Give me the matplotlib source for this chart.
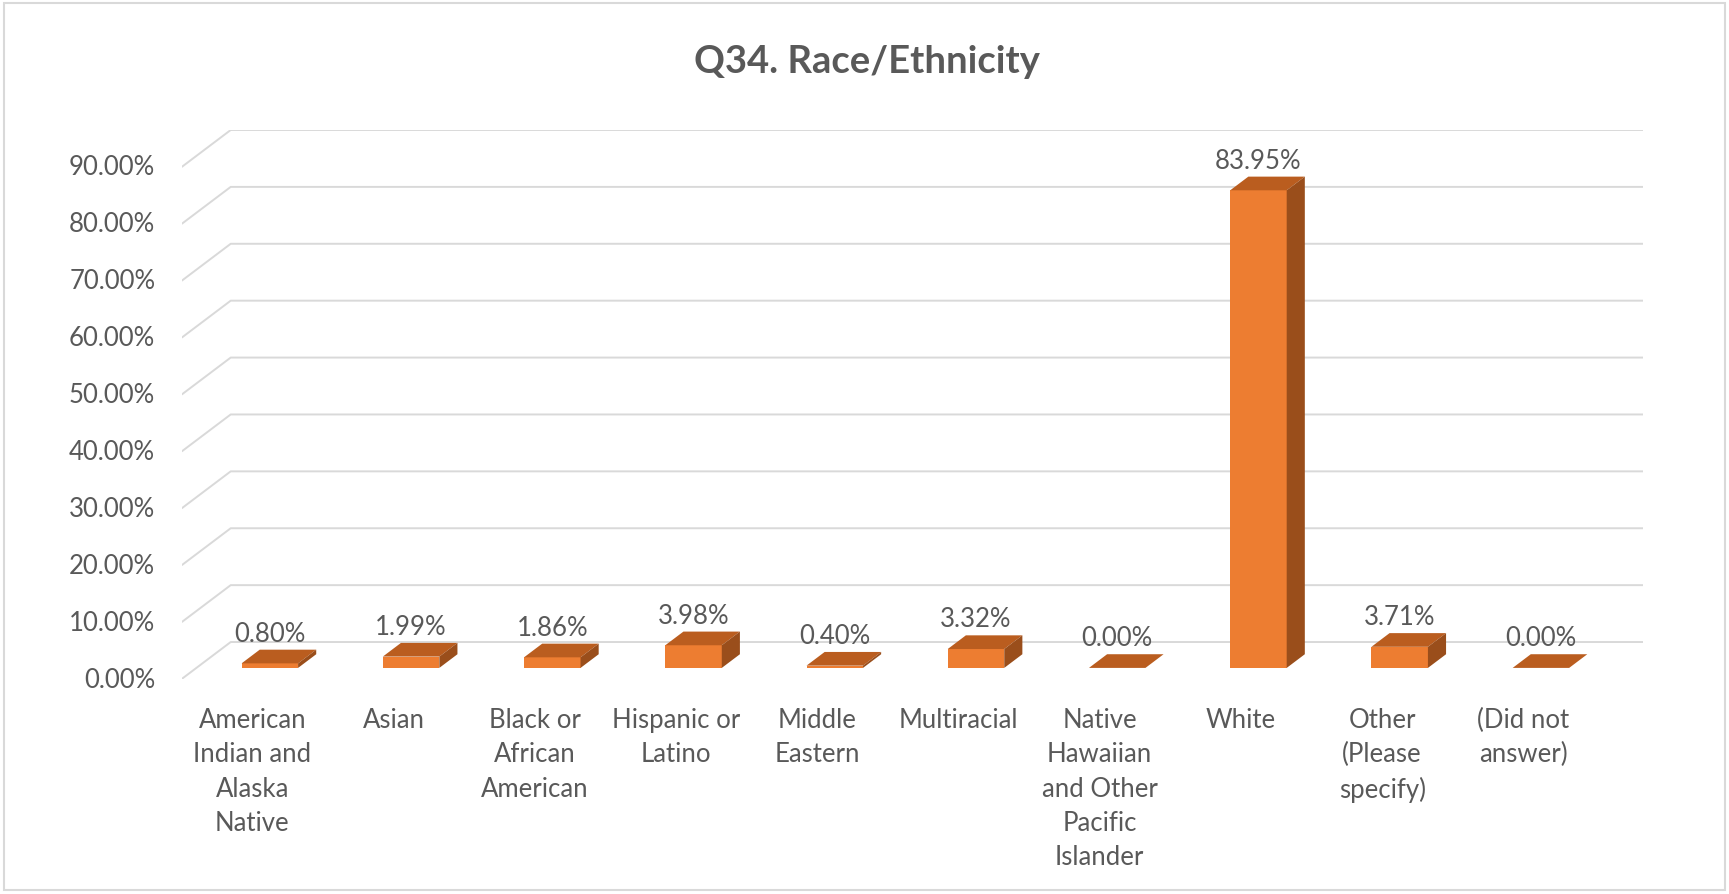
import numpy as np
import matplotlib.pyplot as plt
from matplotlib.patches import Polygon, Rectangle

categories = ['American\nIndian and\nAlaska\nNative', 'Asian', 'Black or\nAfrican\nAmerican',
              'Hispanic or\nLatino', 'Middle\nEastern', 'Multiracial',
              'Native\nHawaiian\nand Other\nPacific\nIslander', 'White',
              'Other\n(Please\nspecify)', '(Did not\nanswer)']
values = [0.80, 1.99, 1.86, 3.98, 0.40, 3.32, 0.00, 83.95, 3.71, 0.00]
yticks = [0, 10, 20, 30, 40, 50, 60, 70, 80, 90]

plt.rcParams['font.family'] = ['Lato', 'DejaVu Sans']
txt_col = '#595959'
grid_col = '#D9D9D9'
front_col = '#ED7D31'
top_col = '#BA5D1F'
side_col = '#9A4E1B'

# oblique "3d" depth: offset of the back wall in data units
DX = 0.347
DY = 6.5
d0, d1 = 0.30, 0.67   # bar depth range (0 = front, 1 = back wall)
bw = 0.40
shift = 0.02
fs = 18.5

fig = plt.figure(figsize=(17.29, 8.95), dpi=100)
ax = fig.add_axes([0.10509, 0.24022, 0.84517, 0.61341])
ax.set_xlim(-0.5, 9.5 + DX)
ax.set_ylim(0, 90 + DY)
ax.axis('off')

# gridlines: side diagonal + back wall line
for t in yticks:
    ax.plot([-0.5, -0.5 + DX, 9.5 + DX], [t, t + DY, t + DY], color=grid_col, lw=1.4, zorder=1,
            solid_capstyle='butt')
    ax.annotate('%.2f%%' % t, (-0.5, t), xytext=(-19, 0), textcoords='offset points',
                ha='right', va='center', fontsize=fs, color=txt_col)

x = np.arange(len(values))
xf = x + shift + d0 * DX
ax.bar(xf, values, width=bw, bottom=d0 * DY, color=front_col, zorder=3)
dd = d1 - d0
for xi, v in zip(xf, values):
    xl, xr = xi - bw / 2, xi + bw / 2
    top = Polygon([(xl, v + d0 * DY), (xr, v + d0 * DY), (xr + dd * DX, v + d1 * DY),
                   (xl + dd * DX, v + d1 * DY)], closed=True, color=top_col, zorder=3, lw=0)
    side = Polygon([(xr, d0 * DY), (xr, v + d0 * DY), (xr + dd * DX, v + d1 * DY),
                    (xr + dd * DX, d1 * DY)], closed=True, color=side_col, zorder=3, lw=0)
    ax.add_patch(top)
    ax.add_patch(side)
    ax.annotate('%.2f%%' % v, (xi, v + d1 * DY), xytext=(0, 6.5), textcoords='offset points',
                ha='center', va='baseline', fontsize=fs, color=txt_col, zorder=4)

for xi, lab in zip(x, categories):
    ax.annotate(lab, (xi, 0), xytext=(0, -20), textcoords='offset points',
                ha='center', va='top', fontsize=fs, color=txt_col, linespacing=1.47,
                annotation_clip=False)

fig.text(0.5012, 0.931, 'Q34. Race/Ethnicity', ha='center', va='center',
         fontsize=27.5, fontweight='bold', color=txt_col)

fig.patches.append(Rectangle((4 / 1729, 4 / 895), 1 - 8 / 1729, 1 - 8 / 895,
                             transform=fig.transFigure, fill=False, edgecolor=grid_col, lw=1.5))

fig.savefig('out.png', dpi=100, facecolor='white')
